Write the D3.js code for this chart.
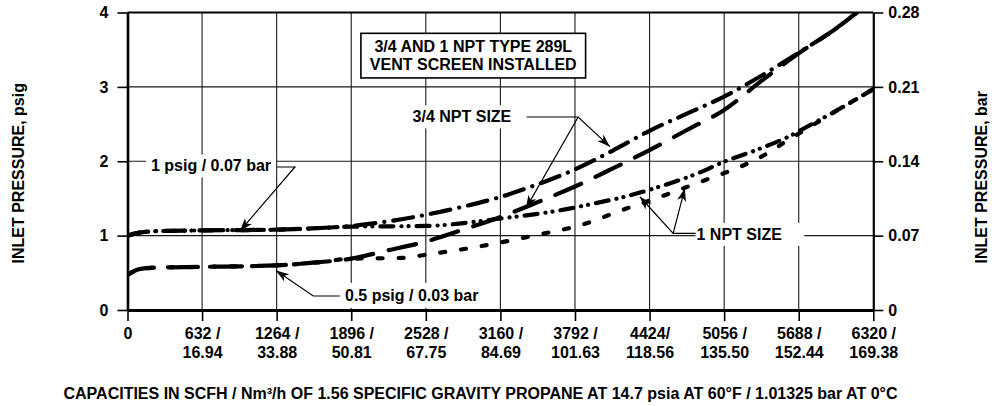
<!DOCTYPE html>
<html><head><meta charset="utf-8">
<script src="https://cdn.jsdelivr.net/npm/d3@7"></script>
<style>
html,body{margin:0;padding:0;background:#fff;}
svg text{font-family:"Liberation Sans",Arial,Helvetica,sans-serif;font-weight:bold;font-size:16px;fill:#000;}
</style></head>
<body>
<svg id="chart" width="992" height="406"></svg>
<script>
// ---------- data ----------
const xTicks = [0, 632, 1264, 1896, 2528, 3160, 3792, 4424, 5056, 5688, 6320];
const xTickLabels = [["0"], ["632 /", "16.94"], ["1264 /", "33.88"], ["1896 /", "50.81"], ["2528 /", "67.75"],
  ["3160 /", "84.69"], ["3792 /", "101.63"], ["4424/", "118.56"], ["5056 /", "135.50"], ["5688 /", "152.44"], ["6320 /", "169.38"]];
const yTicks = [0, 1, 2, 3, 4];
const yRightLabels = ["0", "0.07", "0.14", "0.21", "0.28"];

// 3/4 NPT, 1 psig setpoint (long dash-dot)
const npt34_1psig = [[0,1.0],[100,1.04],[250,1.06],[632,1.07],[1264,1.08],[1600,1.10],[1896,1.13],[2200,1.19],[2528,1.28],
  [2844,1.39],[3160,1.52],[3476,1.69],[3792,1.89],[4108,2.14],[4424,2.41],[4740,2.64],[5056,2.87],[5372,3.15],[5688,3.46],[6000,3.78],[6180,4.0]];
// 3/4 NPT, 0.5 psig setpoint (long dash)
const npt34_05psig = [[0,0.47],[100,0.55],[250,0.57],[632,0.58],[1264,0.60],[1600,0.64],[1896,0.69],[2200,0.80],[2528,0.92],
  [2844,1.08],[3160,1.25],[3476,1.45],[3792,1.66],[4108,1.90],[4424,2.15],[4740,2.42],[5056,2.69],[5372,3.08],[5688,3.45],[6000,3.78],[6180,4.0]];
// 1 NPT, 1 psig setpoint (dash-dot-dot)
const npt1_1psig = [[0,1.0],[100,1.04],[250,1.06],[632,1.07],[1264,1.08],[1600,1.10],[1896,1.12],[2528,1.13],[3160,1.23],
  [3665,1.34],[3947,1.43],[4230,1.53],[4512,1.66],[4851,1.85],[5020,1.97],[5359,2.17],[5614,2.34],[5800,2.50],[6063,2.73],[6320,2.97]];
// 1 NPT, 0.5 psig setpoint (short dash)
const npt1_05psig = [[0,0.47],[100,0.55],[250,0.57],[632,0.58],[1264,0.60],[1600,0.64],[1896,0.69],[2323,0.70],[2537,0.745],
  [3105,0.89],[3470,1.01],[3837,1.14],[4203,1.35],[4512,1.52],[4851,1.72],[5056,1.84],[5359,2.05],[5614,2.30],[6063,2.73],[6320,2.97]];

const boxLines = ["3/4 AND 1 NPT TYPE 289L", "VENT SCREEN INSTALLED"];
const xTitle = "CAPACITIES IN SCFH / Nm³/h OF 1.56 SPECIFIC GRAVITY PROPANE AT 14.7 psia AT 60°F / 1.01325 bar AT 0°C";
const yTitleLeft = "INLET PRESSURE, psig";
const yTitleRight = "INLET PRESSURE, bar";

// ---------- layout ----------
const svg = d3.select("#chart");
const L = 127.5, R = 873.3, T = 12.5, B = 310;
const x = d3.scaleLinear().domain([0, 6320]).range([L, R]);
const y = d3.scaleLinear().domain([0, 4]).range([B, T]);

// defs
const defs = svg.append("defs");
defs.append("marker").attr("id", "arr").attr("viewBox", "-14 -6 15 12")
  .attr("refX", 0).attr("refY", 0).attr("markerWidth", 15).attr("markerHeight", 12)
  .attr("markerUnits", "userSpaceOnUse").attr("orient", "auto")
  .append("path").attr("d", "M0,0L-13,-4.5L-9.5,0L-13,4.5Z").attr("fill", "#000");
defs.append("clipPath").attr("id", "plotclip").append("rect")
  .attr("x", L).attr("y", T).attr("width", R - L).attr("height", B - T);

// grid
const grid = svg.append("g").attr("stroke", "#1a1a1a").attr("stroke-width", 1.1);
grid.selectAll("line.v").data(xTicks.slice(1, -1)).join("line")
  .attr("x1", d => x(d)).attr("x2", d => x(d)).attr("y1", T).attr("y2", B);
grid.selectAll("line.h").data(yTicks.slice(1, -1)).join("line")
  .attr("x1", L).attr("x2", R).attr("y1", d => y(d)).attr("y2", d => y(d));

// labels with white background
function label(txt, dx, dy, opts = {}) {
  const g = svg.append("g");
  const bg = g.append("rect").attr("fill", "#fff");
  const t = g.append("text").attr("x", x(dx)).attr("y", y(dy)).attr("dy", "0.36em").text(txt);
  const bb = t.node().getBBox();
  const pl = opts.pl ?? 4, pr = opts.pr ?? 4, pv = opts.pv ?? 5;
  bg.attr("x", bb.x - pl).attr("y", bb.y - pv + 2).attr("width", bb.width + pl + pr).attr("height", bb.height + 2 * pv - 4);
  return g;
}
label("1 psig / 0.07 bar", 199, 1.94, {pl: 5, pr: 5});
label("3/4 NPT SIZE", 2416, 2.6, {pl: 4, pr: 4});
label("0.5 psig / 0.03 bar", 1843, 0.2, {pl: 3, pr: 4, pv: 6});
label("1 NPT SIZE", 4822, 1.02, {pl: 1, pr: 22});

// title box
const boxG = svg.append("g");
boxG.append("rect").attr("x", x(1978)).attr("y", y(3.72))
  .attr("width", x(3882) - x(1978)).attr("height", y(3.12) - y(3.72))
  .attr("fill", "#fff").attr("stroke", "#000").attr("stroke-width", 1.6);
boxG.selectAll("text").data(boxLines).join("text")
  .attr("x", x(2930)).attr("y", (d, i) => y([3.54, 3.31][i])).attr("dy", "0.36em")
  .attr("text-anchor", "middle").text(d => d);

// curves
const line = d3.line().x(d => x(d[0])).y(d => y(d[1])).curve(d3.curveMonotoneX);
const series = [
  {data: npt1_05psig, dash: "5,16"},
  {data: npt1_1psig, dash: "13,8,0.1,7,0.1,8"},
  {data: npt34_05psig, dash: "28,16"},
  {data: npt34_1psig, dash: "20,9,0.1,9"}
];
const cg = svg.append("g").attr("clip-path", "url(#plotclip)");
cg.selectAll("path").data(series).join("path")
  .attr("d", d => line(d.data)).attr("fill", "none").attr("stroke", "#000")
  .attr("stroke-width", 4.2).attr("stroke-linecap", "round").attr("stroke-dasharray", d => d.dash);

// leaders
const lg = svg.append("g").attr("stroke", "#000").attr("stroke-width", 1.2).attr("fill", "none");
function poly(pts, arrow) {
  const p = lg.append("path").attr("d", d3.line()(pts.map(q => [x(q[0]), y(q[1])])));
  if (arrow) p.attr("marker-end", "url(#arr)");
}
poly([[1267, 1.923], [1419, 1.923], [953, 1.062]], true);
poly([[3382, 2.595], [3819, 2.595], [4088, 2.196]], true);
poly([[3819, 2.595], [3376, 1.367]], true);
poly([[1800, 0.188], [1574, 0.188], [1258, 0.53]], true);
poly([[4815, 1.03], [4624, 1.03], [4342, 1.523]], true);
poly([[4624, 1.03], [4723, 1.636]], true);

// frame top/right
svg.append("line").attr("x1", L).attr("x2", R).attr("y1", T).attr("y2", T).attr("stroke", "#000").attr("stroke-width", 2.2);

// axes
function styleAxis(g, w) {
  g.select(".domain").attr("stroke", "#000").attr("stroke-width", w);
  g.selectAll(".tick line").attr("stroke", "#000").attr("stroke-width", 1.6);
  g.attr("font-family", null).attr("font-size", null);
}
const ax = svg.append("g").attr("transform", `translate(${L},0)`)
  .call(d3.axisLeft(y).tickValues(yTicks).tickSize(10).tickSizeOuter(0).tickPadding(9).tickFormat(d3.format("d")));
styleAxis(ax, 2.6);
const axr = svg.append("g").attr("transform", `translate(${R},0)`)
  .call(d3.axisRight(y).tickValues(yTicks).tickSize(10).tickSizeOuter(0).tickPadding(5).tickFormat((d, i) => yRightLabels[i]));
styleAxis(axr, 2.2);
const axb = svg.append("g").attr("transform", `translate(0,${B})`)
  .call(d3.axisBottom(x).tickValues(xTicks).tickSize(11).tickSizeOuter(0).tickFormat(""));
styleAxis(axb, 2.8);
axb.selectAll(".tick").each(function (d, i) {
  const t = d3.select(this).select("text").attr("y", 0).attr("dy", null);
  t.selectAll("tspan").data(xTickLabels[i]).join("tspan")
    .attr("x", 0).attr("y", (s, k) => 29 + k * 19).text(s => s);
});

// axis titles
svg.append("text").attr("transform", "translate(24,263.5) rotate(-90)").text(yTitleLeft);
svg.append("text").attr("transform", "translate(987,263.5) rotate(-90)").text(yTitleRight);
svg.append("text").attr("x", 480.5).attr("y", 399).attr("text-anchor", "middle").text(xTitle);
</script>
</body></html>
